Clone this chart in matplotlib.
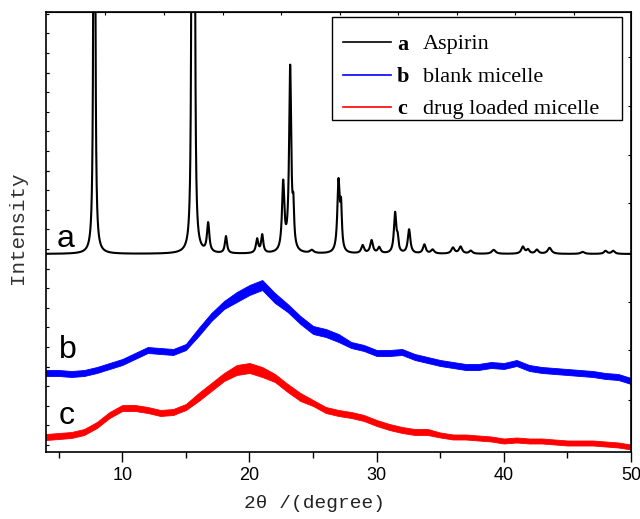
import matplotlib
matplotlib.use("Agg")
import matplotlib.pyplot as plt
import numpy as np

# 2-theta grid (degree) for the two micelle scans, read at 1 degree steps
theta = list(range(4, 51))

# blank micelle (b): mean trace and half-width of the noise band
blank_mean = [79, 79, 78, 79, 82, 86, 90, 96, 102, 101, 100, 105, 120, 135,
              147, 155, 162, 167, 154, 144, 132, 122, 119, 114, 107, 104, 99,
              99, 100, 95, 92, 89, 87, 85, 85, 87, 86, 89, 84, 82, 81, 80, 79,
              78, 76, 75, 71]
blank_spread = [3, 3, 3, 3, 3, 3, 3, 3, 3, 3, 3, 3, 4, 4, 4, 5, 5, 5, 5, 4,
                4, 4, 4, 4, 3, 3, 3, 3, 3, 3, 3, 3, 3, 3, 3, 3, 3, 3, 3, 3, 3,
                3, 3, 3, 3, 3, 3]

# drug loaded micelle (c)
loaded_mean = [15, 16, 17, 20, 27, 37, 44, 44, 42, 39, 40, 45, 55, 65, 75, 82,
               84, 80, 74, 64, 55, 49, 42, 39, 37, 34, 29, 25, 22, 20, 20, 17,
               15, 15, 14, 13, 11, 12, 11, 11, 10, 9, 9, 9, 8, 7, 5]
loaded_spread = [3, 3, 3, 3, 3, 3, 3, 3, 3, 3, 3, 3, 4, 4, 4, 5, 5, 5, 4, 4,
                 4, 3, 3, 3, 3, 3, 3, 3, 3, 3, 3, 2.5, 2.5, 2.5, 2.5, 2.5, 2.5,
                 2.5, 2.5, 2.5, 2.5, 2.5, 2.5, 2.5, 2.5, 2.5, 2.5]

# aspirin (a): baseline offset and reflection list (position, height, HWHM)
aspirin_base = 198
aspirin_pos = [7.8, 15.5, 15.65, 16.75, 18.15, 20.6, 21.0, 22.65, 23.2, 23.45,
               24.9, 27.0, 27.2, 28.9, 29.6, 30.2, 31.45, 31.65, 32.55, 33.75,
               34.4, 36.0, 36.6, 37.4, 39.2, 41.5, 41.9, 42.6, 43.6, 46.2,
               48.0, 48.6]
aspirin_height = [2000, 1500, 1500, 29, 17, 14, 18, 68, 184, 34,
                  3, 70, 40, 8, 13, 6, 40, 12, 24, 9,
                  4, 6, 7, 3, 4, 7, 4, 4, 6, 2,
                  3, 3]
aspirin_hwhm = [0.035, 0.035, 0.035, 0.11, 0.1, 0.11, 0.1, 0.11, 0.1, 0.07,
                0.18, 0.11, 0.08, 0.13, 0.13, 0.13, 0.11, 0.08, 0.12, 0.13,
                0.15, 0.15, 0.15, 0.15, 0.18, 0.15, 0.13, 0.15, 0.18, 0.18,
                0.15, 0.15]

x_ticks = [10, 20, 30, 40, 50]
legend_keys = ["a", "b", "c"]
legend_names = ["Aspirin", "blank micelle", "drug loaded micelle"]

# ── aspirin profile from the reflection list ─────────────────────────────
tt = np.linspace(4, 50, 9201)
aspirin = np.full_like(tt, float(aspirin_base))
for p, h, g in zip(aspirin_pos, aspirin_height, aspirin_hwhm):
    aspirin += h / (1.0 + ((tt - p) / g) ** 2)

fig = plt.figure(figsize=(6.4, 5.19), dpi=100)
ax = fig.add_axes([46 / 640, 1 - 452 / 519, (631 - 46) / 640, (452 - 12) / 519])

ax.plot(tt, aspirin, color="black", lw=1.5)

th = np.array(theta, dtype=float)
for mean, spread, col in [(blank_mean, blank_spread, "#0000ff"),
                          (loaded_mean, loaded_spread, "#ff0000")]:
    m = np.array(mean, dtype=float)
    s = np.array(spread, dtype=float)
    ax.fill_between(th, m - s, m + s, color=col, lw=0.6, edgecolor=col)

ax.set_xlim(4, 50)
ax.set_ylim(0, 440)

ax.set_xticks(x_ticks)
ax.set_xticks([5, 15, 25, 35, 45], minor=True)
ax.tick_params(axis="x", which="major", direction="out", length=7, width=1,
               labelsize=13, pad=4)
ax.tick_params(axis="x", which="minor", direction="out", length=4, width=1)
for lab in ax.get_xticklabels():
    lab.set_family("Liberation Sans")

ax.set_yticks([85, 183, 281, 379])
ax.set_yticks(np.arange(7, 440, 19.6), minor=True)
ax.tick_params(axis="y", which="both", direction="in", length=2, width=0.8,
               labelleft=False)

# inward ticks along the top and right frame
top = ax.secondary_xaxis("top")
top.set_xticks([8.65, 13.27, 17.9, 22.5, 27.1, 31.7, 36.3, 40.9, 45.5])
top.tick_params(direction="in", length=2, width=0.8, labeltop=False)
right = ax.secondary_yaxis("right")
right.set_yticks([52, 102, 150, 199, 249, 297, 346, 395])
right.tick_params(direction="in", length=2, width=0.8, labelright=False)

for sp in ax.spines.values():
    sp.set_linewidth(1.2)

# curve letters
for key, xx, yy in [("a", 57, 247), ("b", 59, 358), ("c", 59, 424)]:
    fig.text(xx / 640, 1 - yy / 519, key, fontsize=23,
             family="Liberation Sans", ha="left", va="baseline")

# legend drawn by hand: short line, bold letter, description
lx0, ly0, lx1, ly1 = 332, 17, 622, 120
ax.add_patch(plt.Rectangle((lx0 / 640, 1 - ly1 / 519),
                           (lx1 - lx0) / 640, (ly1 - ly0) / 519,
                           transform=fig.transFigure, fill=False,
                           edgecolor="black", lw=1.0, zorder=5))
for i, (key, name, col) in enumerate(zip(legend_keys, legend_names,
                                         ["black", "#0000ff", "#ff0000"])):
    yy = 1 - (42 + 32.5 * i) / 519
    fig.add_artist(plt.Line2D([343 / 640, 391 / 640], [yy, yy], color=col,
                              lw=1.2, transform=fig.transFigure))
    fig.text(397 / 640, yy, key, fontsize=16, fontweight="bold",
             family="Liberation Serif", va="center_baseline", ha="left")
    fig.text(423 / 640, yy, name, fontsize=16,
             family="Liberation Serif", va="center_baseline", ha="left")

fig.text(18 / 640, 1 - 228 / 519, "Intensity", rotation=90, fontsize=15,
         family="Liberation Mono", color="#333333", ha="center", va="center")
fig.text(315 / 640, 1 - 503 / 519, "2θ /(degree)", fontsize=14,
         family="Liberation Mono", color="#222222", ha="center", va="center")

fig.savefig("out.png", dpi=100)
